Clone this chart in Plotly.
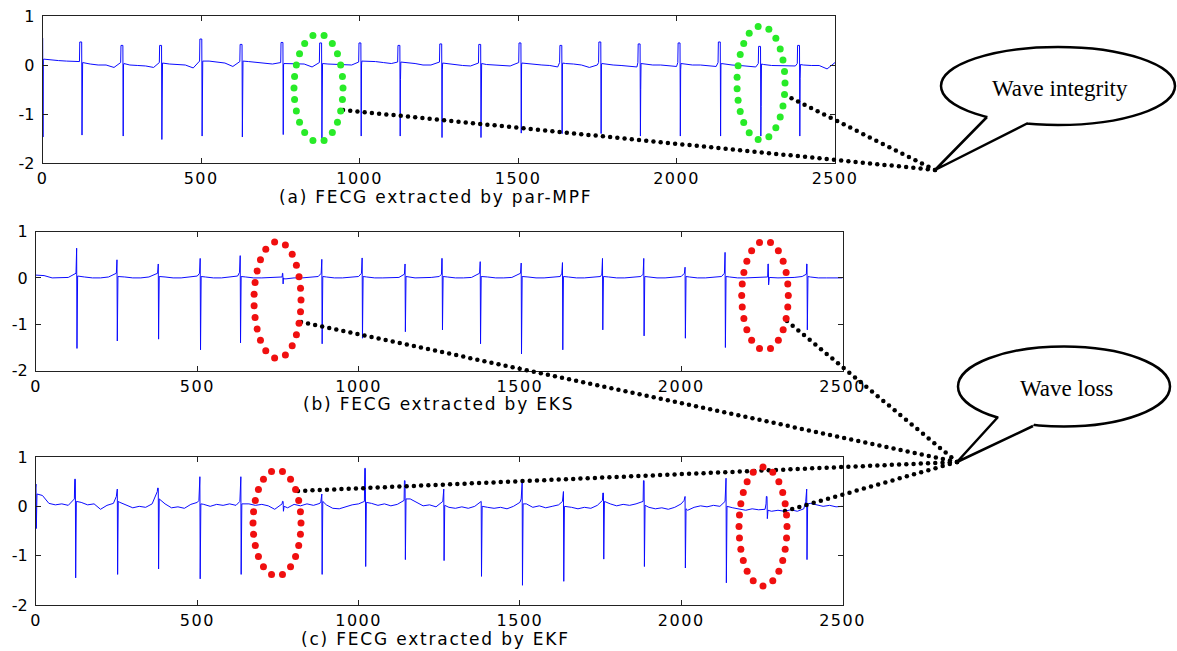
import numpy as np
import plotly.graph_objects as go

W, H = 1177, 651

# ---------------- data ----------------
x_ticks = [0, 500, 1000, 1500, 2000, 2500]
x_ticklabels = ['0', '500', '1000', '1500', '2000', '2500']
y_ticks = [-2, -1, 0, 1]
y_ticklabels = ['-2', '-1', '0', '1']
titles = ['(a) FECG extracted by par-MPF', '(b) FECG extracted by EKS', '(c) FECG extracted by EKF']
callouts = ['Wave integrity', 'Wave loss']

# (a) par-MPF : QRS positions (samples), R peak, S trough, retrace level, level before / after
beats_a = [1, 124, 254, 376, 503, 630, 759, 881, 1005, 1128, 1260, 1383, 1510, 1639, 1762, 1886, 2012, 2139, 2266, 2389]
r_a = [0.55, 0.47, 0.40, 0.40, 0.53, 0.42, 0.46, 0.45, 0.45, 0.40, 0.43, 0.42, 0.45, 0.40, 0.47, 0.43, 0.45, 0.47, 0.38, 0.40]
s_a = [-1.47, -1.43, -1.45, -1.52, -1.45, -1.47, -1.42, -1.50, -1.45, -1.45, -1.48, -1.48, -1.39, -1.40, -1.40, -1.45, -1.45, -1.45, -1.45, -1.45]
m_a = [0.10, 0.05, 0.00, -0.75, 0.05, 0.00, 0.00, 0.00, 0.00, -0.30, -0.10, -0.65, 0.00, 0.00, 0.00, -0.50, -0.10, 0.00, -0.85, -0.27]
pre_a = [0.10, 0.07, 0.05, 0.05, 0.08, 0.07, 0.05, 0.05, 0.06, 0.06, 0.06, 0.04, 0.05, 0.05, 0.05, 0.05, 0.05, 0.05, 0.03, 0.03]
post_a = [0.12, 0.05, 0.03, 0.04, 0.08, 0.08, 0.03, 0.03, 0.08, 0.06, 0.04, 0.03, 0.04, 0.04, 0.03, 0.03, 0.03, 0.03, 0.02, 0.01]
# baseline every 25 samples
base_a = [0.12, 0.10, 0.09, 0.08, 0.08, 0.05, 0.02, 0.00, 0.00, -0.05,
          0.03, 0.00, -0.01, -0.02, -0.05, 0.00, 0.02, 0.01, 0.00, -0.06,
          0.05, 0.08, 0.06, 0.04, -0.03, 0.03, 0.07, 0.05, 0.03, 0.02,
          -0.05, 0.03, 0.02, 0.02, -0.04, 0.03, 0.02, 0.01, 0.00, 0.00,
          -0.02, 0.08, 0.07, 0.05, 0.03, 0.00, 0.05, 0.03, 0.00, 0.00,
          -0.05, 0.03, 0.00, -0.01, -0.02, -0.05, 0.01, 0.00, -0.01, -0.02,
          -0.04, 0.03, 0.01, 0.00, -0.01, -0.04, 0.03, 0.02, 0.00, -0.05,
          0.00, 0.02, 0.00, -0.01, -0.02, -0.04, 0.02, 0.00, 0.00, -0.01,
          -0.03, 0.02, 0.00, 0.00, -0.01, -0.03, 0.02, 0.00, -0.01, -0.02,
          -0.04, 0.01, -0.01, -0.01, -0.02, -0.02, 0.00, -0.01, -0.01, -0.08,
          0.05]

# (b) EKS
beats_b = [127, 252, 380, 510, 634, 766, 887, 1012, 1145, 1260, 1378, 1505, 1633, 1757, 1885, 2013, 2137, 2271, 2391]
r_b = [0.64, 0.39, 0.30, 0.42, 0.48, 0.10, 0.40, 0.43, 0.30, 0.42, 0.35, 0.32, 0.33, 0.42, 0.42, 0.23, 0.55, 0.30, 0.30]
s_b = [-1.52, -1.36, -1.32, -1.55, -1.40, -0.13, -1.42, -1.30, -1.16, -1.12, -1.42, -1.64, -1.55, -1.12, -1.25, -1.30, -1.50, -0.15, -1.12]
m_b = [0.00, -0.45, -0.80, 0.00, 0.00, 0.00, -0.55, -0.80, 0.00, 0.00, -0.10, -0.20, 0.00, -0.68, -0.60, 0.00, 0.00, 0.00, -0.15]
pre_b = [0.10, 0.10, 0.10, 0.10, 0.12, 0.02, 0.10, 0.10, 0.08, 0.08, 0.10, 0.10, 0.10, 0.08, 0.08, 0.10, 0.10, 0.02, 0.08]
post_b = [0.04, 0.03, 0.03, 0.03, 0.03, -0.02, 0.03, 0.03, 0.03, 0.03, 0.03, 0.03, 0.03, 0.03, 0.03, 0.03, 0.03, 0.01, 0.03]
base_b = [0.06, 0.05, 0.00, 0.00, 0.01, 0.05, 0.02, 0.00, 0.00, 0.02,
          0.05, 0.02, 0.00, 0.00, 0.02, 0.05, 0.02, 0.00, 0.00, 0.02,
          0.04, 0.02, 0.00, 0.00, 0.02, 0.04, 0.02, 0.00, 0.00, 0.01,
          0.02, -0.02, 0.00, 0.00, 0.01, 0.03, 0.02, 0.00, 0.00, 0.01,
          0.03, 0.02, 0.00, 0.00, 0.00, 0.01, 0.02, 0.00, 0.00, 0.01,
          0.03, 0.02, 0.00, 0.00, 0.01, 0.03, 0.02, 0.00, 0.00, 0.01,
          0.03, 0.02, 0.00, 0.00, 0.01, 0.03, 0.02, 0.00, 0.00, 0.01,
          0.03, 0.02, 0.00, 0.00, 0.01, 0.03, 0.02, 0.00, 0.00, 0.01,
          0.03, 0.02, 0.00, 0.00, 0.01, 0.03, 0.02, 0.00, 0.00, 0.01,
          0.02, 0.00, 0.00, 0.00, 0.01, 0.03, 0.02, 0.00, 0.00, 0.00,
          0.00]

# (c) EKF
beats_c = [1, 123, 253, 380, 509, 636, 767, 887, 1022, 1145, 1265, 1381, 1508, 1636, 1760, 1886, 2013, 2140, 2267, 2390]
r_c = [0.45, 0.55, 0.35, 0.37, 0.60, 0.60, 0.10, 0.25, 0.77, 0.52, 0.35, 0.10, 0.50, 0.30, 0.27, 0.52, 0.20, 0.57, 0.20, 0.35]
s_c = [-0.45, -1.45, -1.38, -1.27, -1.47, -1.38, -0.10, -1.38, -1.22, -1.08, -1.10, -1.42, -1.60, -1.52, -1.07, -1.22, -1.25, -1.55, -0.25, -1.08]
m_c = [0.20, 0.00, -0.28, -0.70, 0.00, 0.00, 0.00, -0.95, -0.60, 0.00, -0.20, 0.00, 0.00, -0.50, -0.80, -0.62, -0.10, 0.00, -0.10, -0.15]
pre_c = [0.30, 0.15, 0.20, 0.30, 0.12, 0.10, 0.05, 0.10, 0.10, 0.12, 0.10, 0.10, 0.15, 0.10, 0.12, 0.10, 0.12, 0.10, 0.05, 0.10]
post_c = [0.25, 0.10, 0.10, 0.15, 0.05, 0.05, 0.00, 0.10, 0.08, 0.15, 0.02, 0.00, 0.05, 0.00, 0.10, 0.02, -0.05, 0.00, -0.08, 0.05]
# baseline every 20 samples (noisy)
base_c = [0.28, 0.22, 0.06, 0.03, 0.05, 0.02, 0.12, 0.08, 0.03, 0.05,
          -0.06, 0.02, 0.06, 0.08, 0.02, -0.03, 0.00, -0.02, 0.05, 0.15,
          0.05, -0.03, -0.01, -0.04, 0.04, 0.08, 0.04, 0.00, 0.04, 0.02,
          0.05, 0.02, 0.05, 0.05, 0.02, 0.04, 0.01, -0.06, 0.03, -0.03,
          0.04, 0.01, 0.05, 0.02, 0.06, 0.03, -0.04, -0.05, -0.01, 0.03,
          0.05, 0.05, 0.06, 0.02, 0.05, 0.01, 0.04, 0.08, 0.15, 0.08,
          0.01, 0.03, -0.01, 0.00, -0.02, -0.04, -0.01, -0.04, 0.00, 0.05,
          -0.02, -0.04, -0.02, -0.05, 0.00, 0.08, 0.05, -0.02, 0.01, -0.03,
          0.00, 0.03, 0.05, -0.02, -0.05, -0.02, -0.04, 0.02, 0.05, 0.05,
          0.01, 0.04, 0.02, 0.05, 0.05, -0.02, -0.05, -0.03, -0.06, -0.02,
          0.05, -0.08, -0.02, 0.01, -0.01, 0.02, 0.00, 0.05, -0.03, -0.06,
          -0.08, -0.05, -0.07, -0.06, -0.10, -0.08, -0.10, -0.07, -0.10, -0.05,
          0.06, 0.03, 0.00, 0.02, -0.01, 0.00]

panels = [
    dict(beats=beats_a, r=r_a, s=s_a, m=m_a, pre=pre_a, post=post_a, base=base_a, step=25, rw=7),
    dict(beats=beats_b, r=r_b, s=s_b, m=m_b, pre=pre_b, post=post_b, base=base_b, step=25, rw=2),
    dict(beats=beats_c, r=r_c, s=s_c, m=m_c, pre=pre_c, post=post_c, base=base_c, step=20, rw=3),
]


def build_signal(p):
    rw = p['rw']
    pts = []
    for i, v in enumerate(p['base']):
        x = i * p['step']
        if all(not (b - rw - 4 < x < b + 6) for b in p['beats']):
            pts.append((x, v))
    for b, r, s, m, pr, po in zip(p['beats'], p['r'], p['s'], p['m'], p['pre'], p['post']):
        pts += [(b - rw - 1, pr), (b - rw, r), (b - 1, r), (b, s), (b + 1, m), (b + 2, po)]
    pts.sort(key=lambda t: t[0])
    return [t[0] for t in pts], [t[1] for t in pts]


def spaced(t, px):
    return f'<span style="letter-spacing:{px}px">{t}</span>'


fig = go.Figure()

# pixel boxes of the three axes: (left, right, top, bottom)
boxes = [(42.7, 835.0, 16.0, 163.0), (36.0, 842.5, 231.5, 370.7), (36.0, 842.5, 457.0, 605.0)]
title_pos = [(436, 197), (438, 404), (436, 639)]

tickfont = dict(family='DejaVu Sans', size=16, color='black')
for k, (p, box) in enumerate(zip(panels, boxes)):
    xs, ys = build_signal(p)
    sfx = '' if k == 0 else str(k + 1)
    fig.add_trace(go.Scatter(x=xs, y=ys, mode='lines', line=dict(color='rgb(10,10,255)', width=1),
                             xaxis='x' + sfx, yaxis='y' + sfx, showlegend=False, hoverinfo='skip'))
    l, r, t, b = box
    common = dict(showline=True, linecolor='#222', linewidth=1, mirror='ticks', ticks='inside',
                  ticklen=5, tickcolor='#222', showgrid=False, zeroline=False, tickfont=tickfont,
                  fixedrange=True, automargin=False)
    fig.layout['xaxis' + sfx] = dict(domain=[l / W, r / W], range=[0, 2500], anchor='y' + sfx,
                                     tickvals=x_ticks, ticktext=[spaced(t, 1.5) for t in x_ticklabels],
                                     ticklabelstandoff=1, **common)
    fig.layout['yaxis' + sfx] = dict(domain=[1 - b / H, 1 - t / H], range=[-2, 1], anchor='x' + sfx,
                                     tickvals=y_ticks, ticktext=y_ticklabels, ticklabelstandoff=4, **common)

# overlay axis in pixel units for the decorations
fig.layout['xaxis4'] = dict(domain=[0, 1], range=[0, W], anchor='y4', visible=False, fixedrange=True,
                            automargin=False)
fig.layout['yaxis4'] = dict(domain=[0, 1], range=[H, 0], anchor='x4', visible=False, fixedrange=True,
                            automargin=False)


def ellipse_dots(cx, cy, rx, ry, spacing):
    t = np.linspace(0, 2 * np.pi, 2001)
    ex, ey = cx + rx * np.cos(t), cy + ry * np.sin(t)
    cum = np.concatenate([[0], np.cumsum(np.hypot(np.diff(ex), np.diff(ey)))])
    n = int(round(cum[-1] / spacing))
    tg = np.arange(n) * cum[-1] / n
    return np.interp(tg, cum, ex), np.interp(tg, cum, ey)


def line_dots(p0, p1, spacing):
    L = np.hypot(p1[0] - p0[0], p1[1] - p0[1])
    n = int(L / spacing)
    t = np.linspace(0, 1, n + 1)
    return p0[0] + (p1[0] - p0[0]) * t, p0[1] + (p1[1] - p0[1]) * t


GREEN = 'rgb(40,235,40)'
RED = 'rgb(240,15,15)'
ellipses = [(318.5, 88, 24.5, 54, GREEN), (761, 83, 24, 57, GREEN),
            (277.5, 300, 23.5, 58.5, RED), (765, 295.5, 23.3, 54.5, RED),
            (277, 523, 24, 53, RED), (763, 526.5, 24, 59.5, RED)]
leaders = [((343, 110), (935, 170)), ((785, 95), (935, 170)),
           ((301, 322), (957, 462)), ((787, 321), (957, 462)),
           ((298, 491), (957, 462)), ((785, 511), (957, 462))]

lx, ly = [], []
for p0, p1 in leaders:
    a, b = line_dots(p0, p1, 7.2)
    lx += list(a) + [None]
    ly += list(b) + [None]
fig.add_trace(go.Scatter(x=lx, y=ly, mode='markers', marker=dict(color='black', size=4.5),
                         xaxis='x4', yaxis='y4', showlegend=False, hoverinfo='skip', cliponaxis=False))
for cx, cy, rx, ry, col in ellipses:
    a, b = ellipse_dots(cx, cy, rx, ry, 11.5)
    fig.add_trace(go.Scatter(x=a, y=b, mode='markers', marker=dict(color=col, size=7),
                             xaxis='x4', yaxis='y4', showlegend=False, hoverinfo='skip', cliponaxis=False))

# callout bubbles: (cx, cy, rx, ry, base1, base2, tip)
bubbles = [(1058, 86, 117, 39, (987, 117), (1028, 123), (935, 170)),
           (1064, 386.5, 106, 40, (998, 417), (1033, 426), (957, 462))]
shapes = []
for (cx, cy, rx, ry, b1, b2, tip), txt in zip(bubbles, callouts):
    shapes.append(dict(type='circle', xref='x4', yref='y4', x0=cx - rx, x1=cx + rx, y0=cy - ry, y1=cy + ry,
                       line=dict(color='black', width=2.5), fillcolor='white', layer='above'))
    i1 = (b1[0] + (cx - b1[0]) * 0.08, b1[1] + (cy - b1[1]) * 0.15)
    i2 = (b2[0] + (cx - b2[0]) * 0.08, b2[1] + (cy - b2[1]) * 0.15)
    shapes.append(dict(type='path', xref='x4', yref='y4', layer='above',
                       path=f'M {i1[0]},{i1[1]} L {b1[0]},{b1[1]} L {tip[0]},{tip[1]} L {b2[0]},{b2[1]} L {i2[0]},{i2[1]} Z',
                       fillcolor='white', line=dict(width=0)))
    shapes.append(dict(type='path', xref='x4', yref='y4', layer='above',
                       path=f'M {b1[0]},{b1[1]} L {tip[0]},{tip[1]} L {b2[0]},{b2[1]}',
                       line=dict(color='black', width=2.5)))
    fig.add_annotation(x=cx + 2, y=cy + 2, xref='x4', yref='y4', text=txt, showarrow=False,
                       font=dict(family='Liberation Serif', size=23, color='black'))

for (tx, ty), ttl in zip(title_pos, titles):
    fig.add_annotation(x=tx / W, y=1 - ty / H, xref='paper', yref='paper', text=spaced(ttl, 1.8),
                       showarrow=False, font=dict(family='DejaVu Sans', size=17, color='black'),
                       xanchor='center', yanchor='middle')

fig.update_layout(width=W, height=H, margin=dict(l=0, r=0, t=0, b=0, pad=0), autosize=False,
                  paper_bgcolor='white', plot_bgcolor='rgba(0,0,0,0)', shapes=shapes, showlegend=False)

fig.write_html('out.html',
               post_script="document.body.style.margin='0';document.body.style.overflow='hidden';")
